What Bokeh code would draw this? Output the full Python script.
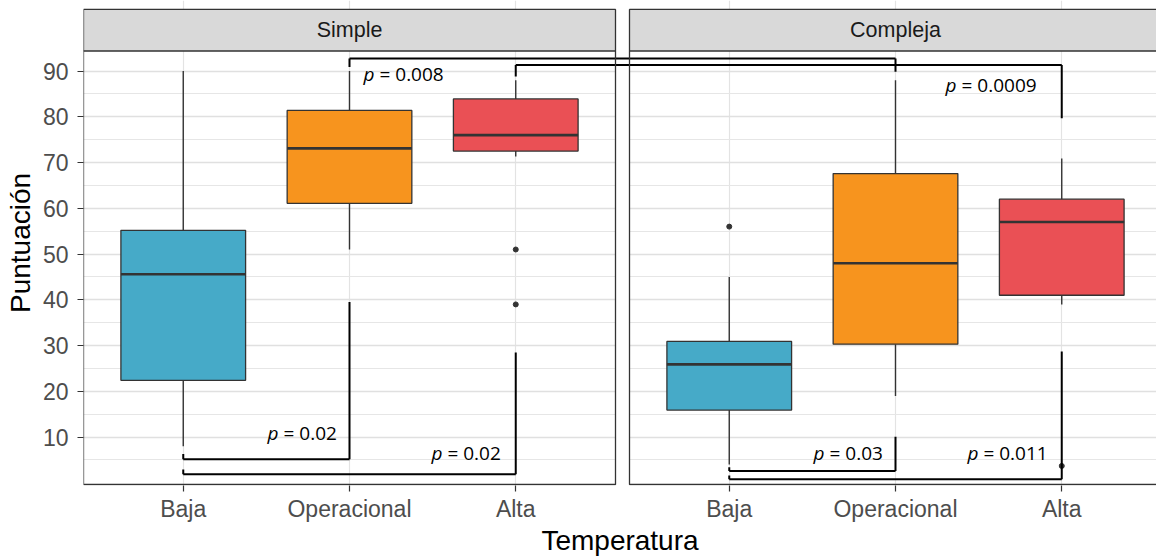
import numpy as np
from bokeh.plotting import figure
from bokeh.models import ColumnDataSource, Range1d, FixedTicker, CustomJSTickFormatter
from bokeh.core.properties import value
from bokeh.embed import file_html
from bokeh.resources import INLINE

# ---------------- data ----------------
categories = ["Baja", "Operacional", "Alta"]
facets = ["Simple", "Compleja"]
fill_colors = ["#46AAC8", "#F7941E", "#EA5055"]

simple_lower = [8.0, 51.0, 71.3]
simple_q1 = [22.4, 61.1, 72.5]
simple_median = [45.6, 73.1, 76.0]
simple_q3 = [55.2, 81.4, 83.9]
simple_upper = [90.0, 90.0, 88.0]
simple_out_cat = ["Alta", "Alta"]
simple_out_val = [51.0, 39.0]

compleja_lower = [4.0, 19.0, 39.0]
compleja_q1 = [15.9, 30.3, 41.0]
compleja_median = [25.9, 48.0, 57.0]
compleja_q3 = [30.9, 67.6, 62.0]
compleja_upper = [45.0, 88.0, 70.9]
compleja_out_cat = ["Baja", "Alta"]
compleja_out_val = [56.0, 3.7]

comp_from = [("Simple", "Baja"), ("Simple", "Baja"), ("Simple", "Operacional"),
             ("Simple", "Alta"), ("Compleja", "Baja"), ("Compleja", "Baja")]
comp_to = [("Simple", "Operacional"), ("Simple", "Alta"), ("Compleja", "Operacional"),
           ("Compleja", "Alta"), ("Compleja", "Operacional"), ("Compleja", "Alta")]
p_values = ["0.02", "0.02", "0.008", "0.0009", "0.03", "0.011"]

# ---------------- layout (annotation geometry) ----------------
bracket_y = [5.15, 1.9, 92.75, 91.3, 2.6, 0.8]
bracket_tip_a = [6.3, 2.9, 90.9, 88.8, 3.4, 1.6]
bracket_tip_b = [39.5, 28.5, 89.85, 79.7, 10.1, 28.7]
label_pos = [(1.507, 10.93), (2.493, 6.59), (2.084, 89.34),
             (5.585, 86.95), (4.791, 6.44), (5.717, 6.44)]

PX_X = 166.25
PX_Y = 4.604
OFFSET = 3.2 + 14 / PX_X   # second facet offset
facet_off = {"Simple": 0.0, "Compleja": OFFSET}
cat_pos = {c: i + 1 for i, c in enumerate(categories)}
def xpos(facet, cat):
    return cat_pos[cat] + facet_off[facet]

W, H = 1156, 558
ML, MB = 83, 70
frame_w = W - ML
frame_h = H - MB
x0 = 0.4
y0 = -0.577
x_range = Range1d(x0, x0 + frame_w / PX_X)
y_range = Range1d(y0, y0 + frame_h / PX_Y)

p = figure(width=W, height=H, x_range=x_range, y_range=y_range,
           output_backend="svg", toolbar_location=None,
           min_border_left=ML, min_border_right=0, min_border_top=0, min_border_bottom=MB)
p.outline_line_color = None
p.background_fill_color = "white"
p.border_fill_color = "white"

xticks = [xpos(f, c) for f in facets for c in categories]
p.xaxis.ticker = FixedTicker(ticks=xticks)
p.xaxis.formatter = CustomJSTickFormatter(args=dict(labels=categories, off=OFFSET), code="""
    const t = tick > 3.64 ? tick - off : tick;
    return labels[Math.round(t) - 1];
""")
p.yaxis.ticker = FixedTicker(ticks=list(range(10, 91, 10)))
p.xgrid.ticker = FixedTicker(ticks=xticks)
p.ygrid.ticker = FixedTicker(ticks=list(range(10, 91, 10)), minor_ticks=list(range(5, 90, 10)))
p.xgrid.grid_line_color = "#E3E3E3"
p.xgrid.grid_line_width = 1.2
p.ygrid.grid_line_color = "#E0E0E0"
p.ygrid.grid_line_width = 1.3
p.ygrid.minor_grid_line_color = "#E6E6E6"
p.ygrid.minor_grid_line_width = 1.0

for ax in (p.xaxis, p.yaxis):
    ax.axis_line_color = None
    ax.major_tick_line_color = "#333333"
    ax.major_tick_line_width = 1.2
    ax.major_tick_out = 6
    ax.major_tick_in = 0
    ax.minor_tick_line_color = None
    ax.major_label_text_font = "Liberation Sans"
    ax.major_label_text_font_size = "23px"
    ax.major_label_text_color = "#4D4D4D"
    ax.axis_label_text_font = "Liberation Sans"
    ax.axis_label_text_font_size = "28px"
    ax.axis_label_text_font_style = "normal"
    ax.axis_label_text_color = "black"
p.xaxis.major_label_standoff = 4
p.yaxis.major_label_standoff = 9
p.xaxis.axis_label = "Temperatura"
p.yaxis.axis_label = "Puntuación"
p.xaxis.axis_label_standoff = 0
p.yaxis.axis_label_standoff = 4

# gap between panels
p.quad(left=[3.6], right=[OFFSET + 0.4], bottom=[-5], top=[120], fill_color="white", line_color=None)

# boxes
def facet_data(facet, lower, q1, med, q3, upper):
    xs = [xpos(facet, c) for c in categories]
    return dict(x=xs, left=[x - 0.375 for x in xs], right=[x + 0.375 for x in xs],
                lower=lower, q1=q1, med=med, q3=q3, upper=upper, color=fill_colors)

for facet, arrs in (("Simple", (simple_lower, simple_q1, simple_median, simple_q3, simple_upper)),
                    ("Compleja", (compleja_lower, compleja_q1, compleja_median, compleja_q3, compleja_upper))):
    src = ColumnDataSource(facet_data(facet, *arrs))
    p.segment(x0="x", y0="q3", x1="x", y1="upper", source=src, line_color="#333333", line_width=1.4)
    p.segment(x0="x", y0="lower", x1="x", y1="q1", source=src, line_color="#333333", line_width=1.4)
    p.quad(left="left", right="right", bottom="q1", top="q3", source=src,
           fill_color="color", line_color="#333333", line_width=1.3)
    p.segment(x0="left", y0="med", x1="right", y1="med", source=src, line_color="#333333", line_width=2.6)

out_src = ColumnDataSource(dict(
    x=[xpos("Simple", c) for c in simple_out_cat] + [xpos("Compleja", c) for c in compleja_out_cat],
    y=simple_out_val + compleja_out_val))
p.scatter(x="x", y="y", source=out_src, size=5, color="#333333")

# brackets
bx0, by0, bx1, by1 = [], [], [], []
for (fa, ca), (fb, cb), yb, ta, tb in zip(comp_from, comp_to, bracket_y, bracket_tip_a, bracket_tip_b):
    xa, xb = xpos(fa, ca), xpos(fb, cb)
    bx0 += [xa, xa, xb]; by0 += [ta, yb, yb]
    bx1 += [xa, xb, xb]; by1 += [yb, yb, tb]
p.segment(x0=bx0, y0=by0, x1=bx1, y1=by1, line_color="black", line_width=2)

lab_src = ColumnDataSource(dict(x=[lp[0] for lp in label_pos], y=[lp[1] for lp in label_pos],
                                p=["p"] * len(p_values), rest=["= " + v for v in p_values]))
p.text(x="x", y="y", text="p", source=lab_src, text_font=value("Open Sans"),
       text_font_style="italic", text_font_size="19px", text_baseline="middle",
       text_align="left", text_color="black")
p.text(x="x", y="y", text="rest", source=lab_src, text_font=value("Open Sans"),
       text_font_size="19px", text_baseline="middle", text_align="left",
       text_color="black", x_offset=16)

# panel borders and strips
panel_left = [0.4, OFFSET + 0.4]
panel_right = [3.6, OFFSET + 3.9]
y_panel_bottom = -0.36
y_panel_top = 94.4
y_strip_top = 103.47
p.quad(left=panel_left, right=panel_right, bottom=[y_panel_bottom] * 2, top=[y_panel_top] * 2,
       fill_color=None, line_color="#333333", line_width=1.3)
p.quad(left=panel_left, right=panel_right, bottom=[y_panel_top] * 2, top=[y_strip_top] * 2,
       fill_color="#D9D9D9", line_color="#333333", line_width=1.3)
p.text(x=[xpos(f, "Operacional") for f in facets], y=[98.9] * 2, text=facets,
       text_font=value("Liberation Sans"), text_font_size="21.5px", text_color="#1A1A1A",
       text_align="center", text_baseline="middle")

open("out.html", "w").write(file_html(p, INLINE))
